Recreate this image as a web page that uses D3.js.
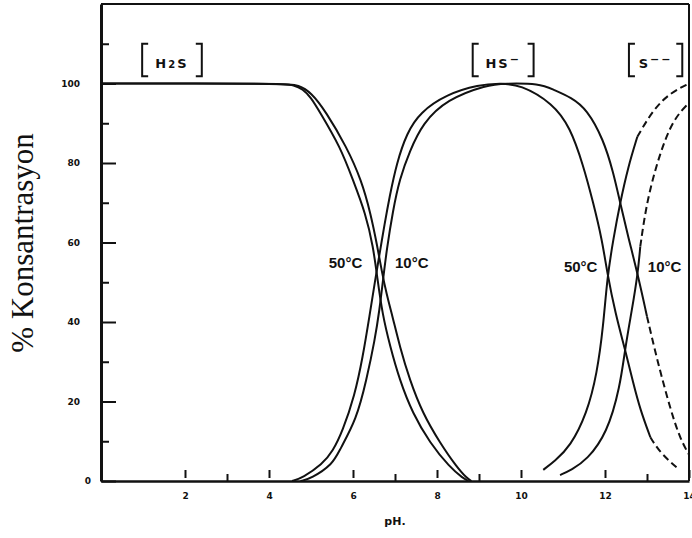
<!DOCTYPE html>
<html lang="tr">
<head>
    <meta charset="UTF-8">
    <title>H2S / HS- / S-- dağılımı</title>
    <script src="https://d3js.org/d3.v7.min.js"></script>
    <style>
        body { margin: 0; background: #fff; }
        .curve { fill: none; stroke: #111; stroke-width: 2px; }
        .curve.dashed { stroke-dasharray: 7,4; }
        .axis .domain { stroke: #111; }
        .axis line { stroke: #111; stroke-width: 2px; }
        .axis text { font: bold 9px "DejaVu Sans", sans-serif; fill: #111; }
        .frame { stroke: #111; stroke-width: 2px; }
        .temp { font: bold 15px "Liberation Sans", sans-serif; fill: #111; }
        .species { font: bold 13px "DejaVu Sans", sans-serif; fill: #111; }
        .bracket { fill: none; stroke: #111; stroke-width: 2px; }
        .ytitle { font: 31px "Liberation Serif", serif; fill: #111; }
        .xtitle { font: bold 11px "DejaVu Sans", sans-serif; fill: #111; }
    </style>
</head>
<body>
<script>
    // % of each species vs pH: [pH, %]
    var h2s50 = [[0,100],[4.3,100],[4.6,99.6],[4.8,98.6],[5.0,96.5],[5.2,93],[5.7,84],[6.0,75.7],[6.3,67.3],[6.48,59],[6.58,51],[6.7,42],[6.88,34],[7.11,25.4],[7.42,17],[7.83,9.6],[8.3,3.5],[8.62,0.7],[8.75,0]];
    var h2s10 = [[0,100],[4.4,100],[4.7,99.6],[5.0,97.8],[5.35,93],[5.85,84],[6.2,75.7],[6.42,67.3],[6.58,59],[6.68,53],[6.8,47],[6.95,41],[7.11,34],[7.35,25.4],[7.66,17],[8.07,9.6],[8.47,3.5],[8.71,0.7],[8.82,0]];
    var hs50 = [[4.55,0],[4.8,0.8],[5.27,4.2],[5.52,7.5],[5.75,12.5],[6.04,21.5],[6.23,31],[6.4,42],[6.52,50],[6.63,57],[6.75,64.5],[6.87,71.5],[7.04,80],[7.28,87.5],[7.59,92.7],[8.23,97.3],[9.0,99.7],[9.5,100],[9.98,99.8],[10.76,95],[11.17,89],[11.48,79.5],[11.72,70],[11.93,60.7],[12.05,52.5],[12.25,42],[12.48,33],[12.67,24.7],[12.84,17.9],[13.08,11],[13.32,7],[13.72,3.3]];
    var hs10 = [[4.75,0],[5.0,0.6],[5.52,4.2],[5.68,7.8],[6.08,15.4],[6.32,25.4],[6.52,35.5],[6.63,43],[6.72,51],[6.8,58],[6.95,68],[7.11,76],[7.35,83],[7.66,90],[8.23,96],[9.2,99.7],[9.6,100],[10.45,100],[10.76,98.5],[11.2,96.5],[11.57,93.5],[11.96,86],[12.2,77.6],[12.36,70],[12.55,61.5],[12.78,52],[13.0,41.4],[13.24,30.5],[13.56,17.9],[13.8,10.3],[14.03,6.1]];
    var s50 = [[10.53,2.8],[10.8,5],[11.17,8.6],[11.57,17],[11.81,27],[11.96,39],[12.05,51],[12.2,61],[12.36,70],[12.55,79],[12.77,86.6],[13.15,93.5],[13.56,97.7],[14,100]];
    var s10 = [[10.93,1.5],[11.2,2.8],[11.57,5.3],[12.05,12],[12.36,23.7],[12.48,33.5],[12.64,43],[12.78,52],[12.84,59],[13.0,70.8],[13.32,83],[13.63,91],[13.96,94.7],[14,95]];

    // pH from which each curve is drawn dashed (null = solid all the way)
    var dashFrom = {h2s50: null, h2s10: null, hs50: 13.08, hs10: 13.0, s50: 12.77, s10: 12.84};

    var xMajorTicks = [2, 4, 6, 8, 10, 12, 14];
    var xMinorTicks = [3, 7, 9, 13];
    var yMajorTicks = [0, 20, 40, 60, 80, 100];
    var yMinorTicks = [10, 30, 50, 70, 90, 110];

    // species labels: bracket from pH x0 to x1
    var speciesLabels = [
        {main: "H", sub: "2", tail: "S", sup: "", x0: 0.98, x1: 2.4},
        {main: "HS", sub: "", tail: "", sup: "\u2212", x0: 8.85, x1: 10.3},
        {main: "S", sub: "", tail: "", sup: "\u2212\u2212", x0: 12.57, x1: 13.84}
    ];
    // temperature labels: [text, pH, %, anchor]
    var tempLabels = [
        ["50\u00B0C", 6.22, 53.5, "end"],
        ["10\u00B0C", 7.0, 53.5, "start"],
        ["50\u00B0C", 11.82, 52.5, "end"],
        ["10\u00B0C", 13.02, 52.5, "start"]
    ];

    var margin = {top: 4, right: 3, bottom: 57, left: 101},
        width = 692 - margin.left - margin.right,
        height = 538 - margin.top - margin.bottom;

    var svg = d3.select("body").append("svg")
        .attr("width", 692)
        .attr("height", 538)
        .append("g")
        .attr("transform", "translate(" + margin.left + "," + margin.top + ")");

    var x = d3.scaleLinear().domain([0, 14]).range([0, width]);
    var y = d3.scaleLinear().domain([0, 120]).range([height, 0]);

    svg.append("clipPath").attr("id", "plot-clip")
        .append("rect").attr("width", width).attr("height", height);

    // top and right frame
    svg.append("line").attr("class", "frame")
        .attr("x1", 0).attr("x2", x(14)).attr("y1", y(120)).attr("y2", y(120));
    svg.append("line").attr("class", "frame")
        .attr("x1", x(14)).attr("x2", x(14)).attr("y1", y(120)).attr("y2", y(0));

    // y axis, ticks pointing inward
    var yAxis = svg.append("g").attr("class", "axis")
        .call(d3.axisLeft(y).tickValues(yMajorTicks).tickSize(-15).tickSizeOuter(0).tickPadding(21));
    yAxis.select(".domain").style("stroke-width", "3px");
    yAxis.selectAll("text").attr("dx", function(d) { return d === 0 ? 11 : 0; });
    svg.append("g").attr("class", "axis")
        .call(d3.axisLeft(y).tickValues(yMinorTicks).tickSize(-8).tickFormat(""))
        .select(".domain").remove();

    // x axis
    var xAxis = svg.append("g").attr("class", "axis")
        .attr("transform", "translate(0," + height + ")")
        .call(d3.axisBottom(x).tickValues(xMajorTicks).tickSize(-11).tickSizeOuter(0).tickPadding(12));
    xAxis.select(".domain").style("stroke-width", "2.5px");
    xAxis.selectAll("line").attr("y1", -3);
    svg.append("g").attr("class", "axis")
        .attr("transform", "translate(0," + height + ")")
        .call(d3.axisBottom(x).tickValues(xMinorTicks).tickSize(-7).tickFormat(""))
        .select(".domain").remove();

    // curves
    var line = d3.line()
        .x(function(d) { return x(d[0]); })
        .y(function(d) { return y(d[1]); })
        .curve(d3.curveBasis);

    var series = {h2s50: h2s50, h2s10: h2s10, hs50: hs50, hs10: hs10, s50: s50, s10: s10};
    var curves = svg.append("g").attr("clip-path", "url(#plot-clip)");

    Object.keys(series).forEach(function(key) {
        var pts = series[key], cut = dashFrom[key];
        var solid = cut === null ? pts : pts.filter(function(d) { return d[0] <= cut; });
        curves.append("path").attr("class", "curve").attr("d", line(solid));
        if (cut !== null) {
            var dashed = pts.filter(function(d) { return d[0] >= cut; });
            curves.append("path").attr("class", "curve dashed").attr("d", line(dashed));
        }
    });

    // temperature labels
    svg.selectAll(".temp")
        .data(tempLabels)
        .enter().append("text")
        .attr("class", "temp")
        .attr("x", function(d) { return x(d[1]); })
        .attr("y", function(d) { return y(d[2]); })
        .attr("text-anchor", function(d) { return d[3]; })
        .text(function(d) { return d[0]; });

    // species labels in square brackets
    var yTop = y(110), yBot = y(101.8);
    speciesLabels.forEach(function(s) {
        var l = x(s.x0), r = x(s.x1);
        svg.append("path").attr("class", "bracket")
            .attr("d", "M" + (l + 6) + "," + yTop + "L" + l + "," + yTop + "L" + l + "," + yBot + "L" + (l + 6) + "," + yBot);
        svg.append("path").attr("class", "bracket")
            .attr("d", "M" + (r - 6) + "," + yTop + "L" + r + "," + yTop + "L" + r + "," + yBot + "L" + (r - 6) + "," + yBot);
        var t = svg.append("text").attr("class", "species")
            .attr("x", (l + r) / 2)
            .attr("y", y(104))
            .attr("text-anchor", "middle")
            .style("letter-spacing", "2px");
        t.append("tspan").text(s.main);
        if (s.sub) t.append("tspan").attr("font-size", "10px").text(s.sub);
        if (s.tail) t.append("tspan").text(s.tail);
        if (s.sup) t.append("tspan").attr("dy", "-5").attr("font-size", "11px").text(s.sup);
    });

    // axis titles
    svg.append("text").attr("class", "ytitle")
        .attr("transform", "translate(" + (33 - margin.left) + "," + (243 - margin.top) + ") rotate(-90)")
        .attr("text-anchor", "middle")
        .text("% Konsantrasyon");

    svg.append("text").attr("class", "xtitle")
        .attr("x", x(7))
        .attr("y", height + 44)
        .attr("text-anchor", "middle")
        .text("pH.");
</script>
</body>
</html>
